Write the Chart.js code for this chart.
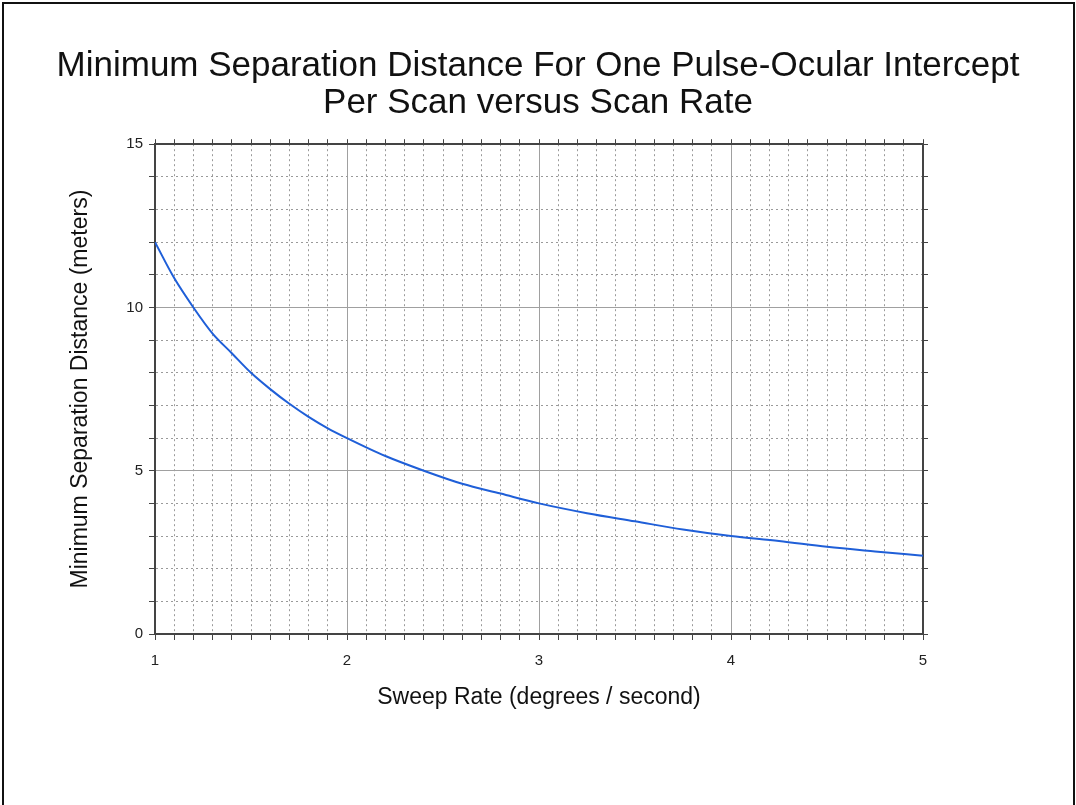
<!DOCTYPE html>
<html>
<head>
<meta charset="utf-8">
<script src="https://cdn.jsdelivr.net/npm/chart.js@4/dist/chart.umd.min.js"></script>
<style>
  html, body { margin: 0; padding: 0; background: #fff; overflow: hidden; }
  #wrap { position: relative; width: 1076px; height: 805px; }
  #frame {
    position: absolute; left: 2px; top: 2px; width: 1069px; height: 830px;
    border: 2px solid #111; pointer-events: none;
  }
</style>
</head>
<body>
<div id="wrap">
  <canvas id="sweep-chart" width="1076" height="805"></canvas>
  <div id="frame"></div>
</div>
<script>
/**
 * Minimum separation distance vs sweep rate
 */

// values
const sweepRates = [1.0, 1.1, 1.2, 1.3, 1.4, 1.5, 1.6, 1.7, 1.8, 1.9, 2.0,
  2.2, 2.4, 2.6, 2.8, 3.0, 3.25, 3.5, 3.75, 4.0, 4.25, 4.5, 4.75, 5.0];
const minDistances = [12.0, 10.9, 10.0, 9.2, 8.6, 8.0, 7.5, 7.05, 6.65, 6.3, 6.0,
  5.45, 5.0, 4.6, 4.3, 4.0, 3.7, 3.45, 3.2, 3.0, 2.85, 2.67, 2.53, 2.4];

const xMajorLabels = [1, 2, 3, 4, 5];
const yMajorLabels = [0, 5, 10, 15];

const titleLines = [
  "Minimum Separation Distance For One Pulse-Ocular Intercept",
  "Per Scan versus Scan Rate",
];
const xTitle = "Sweep Rate (degrees / second)";
const yTitle = "Minimum Separation Distance (meters)";

const FONT = "'Liberation Sans', Arial, sans-serif";

const isMajor = (value, majors) =>
  majors.some((m) => Math.abs(value - m) < 1e-6);

const gridColor = (majors) => (ctx) => {
  if (!ctx.tick) return "#555";
  return isMajor(ctx.tick.value, majors) ? "#a0a0a0" : "#9a9a9a";
};
const gridDash = (majors) => (ctx) => {
  if (!ctx.tick) return [];
  return isMajor(ctx.tick.value, majors) ? [] : [2, 3];
};

const points = sweepRates.map((x, i) => ({ x: x, y: minDistances[i] }));

const chart = document.getElementById("sweep-chart");

new Chart(chart, {
  type: "line",

  data: {
    datasets: [
      {
        data: points,
        borderColor: "#1f5fd8",
        borderWidth: 2,
        pointRadius: 0,
        cubicInterpolationMode: "monotone",
        fill: false,
      },
    ],
  },

  options: {
    responsive: false,
    animation: false,
    devicePixelRatio: 1,
    layout: { padding: 0 },
    plugins: {
      legend: { display: false },
      tooltip: { enabled: false },
      title: {
        display: true,
        text: titleLines,
        color: "#111",
        font: { family: FONT, size: 35, weight: "normal", lineHeight: 1.06 },
        padding: { top: 48, bottom: 22 },
      },
    },
    scales: {
      x: {
        type: "linear",
        position: "bottom",
        min: 1,
        max: 5,
        afterFit: (scale) => { scale.height = 171; },
        ticks: {
          stepSize: 0.1,
          autoSkip: false,
          maxRotation: 0,
          padding: 12,
          color: "#222",
          font: { family: FONT, size: 15 },
          callback: (v) => (isMajor(v, xMajorLabels) ? Math.round(v) : ""),
        },
        grid: {
          color: gridColor(xMajorLabels),
          tickColor: "#444",
          tickLength: 6,
          lineWidth: 1,
        },
        border: { color: "#444", width: 2, dash: gridDash(xMajorLabels) },
        title: {
          display: true,
          text: xTitle,
          color: "#111",
          font: { family: FONT, size: 23 },
          padding: { top: 0, bottom: 94 },
        },
      },
      xTop: {
        type: "linear",
        position: "top",
        min: 1,
        max: 5,
        afterFit: (scale) => { scale.height = 0; },
        ticks: { stepSize: 0.1, autoSkip: false, display: false },
        grid: { drawOnChartArea: false, tickColor: "#444", tickLength: 5 },
        border: { color: "#444", width: 2 },
      },
      y: {
        type: "linear",
        position: "left",
        min: 0,
        max: 15,
        afterFit: (scale) => { scale.width = 155; },
        ticks: {
          stepSize: 1,
          autoSkip: false,
          padding: 6,
          color: "#222",
          font: { family: FONT, size: 15 },
          callback: (v) => (isMajor(v, yMajorLabels) ? Math.round(v) : ""),
        },
        grid: {
          color: gridColor(yMajorLabels),
          tickColor: "#444",
          tickLength: 6,
          lineWidth: 1,
        },
        border: { color: "#444", width: 2, dash: gridDash(yMajorLabels) },
        title: {
          display: true,
          text: yTitle,
          color: "#111",
          font: { family: FONT, size: 23 },
          padding: { top: 67, bottom: 0 },
        },
      },
      yRight: {
        type: "linear",
        position: "right",
        min: 0,
        max: 15,
        afterFit: (scale) => { scale.width = 153; },
        ticks: { stepSize: 1, autoSkip: false, display: false },
        grid: { drawOnChartArea: false, tickColor: "#444", tickLength: 5 },
        border: { color: "#444", width: 2 },
      },
    },
  },
});
</script>
</body>
</html>
